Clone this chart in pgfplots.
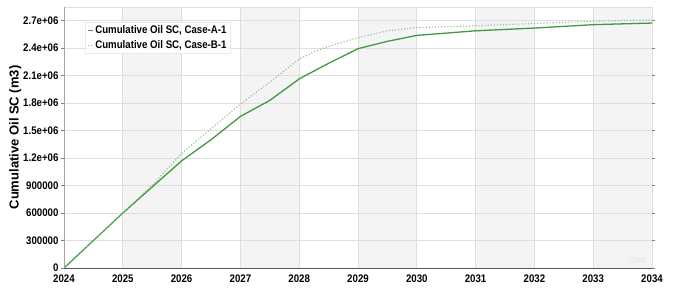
\documentclass[border=0pt]{standalone}
\usepackage{pgfplots}
\pgfplotsset{compat=1.18}
\usepackage{fontspec}
\setmainfont{Liberation Sans}[FakeStretch=0.88]
\newfontfamily\labelfont{Liberation Sans}
\definecolor{caseA}{RGB}{66,152,66}
\definecolor{caseB}{RGB}{135,190,135}
\definecolor{bandc}{RGB}{244,244,244}
\definecolor{gridc}{RGB}{222,222,222}
\begin{document}
\begin{tikzpicture}
\begin{axis}[
  set layers,
  scale only axis,
  width=588pt, height=261pt,
  xmin=2024, xmax=2034, ymin=0, ymax=2.85e6,
  xtick={2024,2025,...,2034},
  xticklabels={2024,2025,2026,2027,2028,2029,2030,2031,2032,2033,2034},
  ytick={0,300000,600000,900000,1200000,1500000,1800000,2100000,2400000,2700000},
  yticklabels={0,300000,600000,900000,1.2e+06,1.5e+06,1.8e+06,2.1e+06,2.4e+06,2.7e+06},
  scaled y ticks=false,
  tick label style={font=\fontsize{11}{13}\selectfont\bfseries},
  xticklabel style={yshift=0pt},
  yticklabel style={xshift=1pt},
  ylabel={Cumulative Oil SC (m3)},
  ylabel style={font=\labelfont\fontsize{13}{15}\selectfont\bfseries, yshift=-5pt},
  grid=major,
  major grid style={gridc, line width=0.6pt},
  axis line style={draw=none},
  tick align=outside,
  major tick length=3pt,
  xtick style={draw=none},
  ytick style={gray, line width=0.6pt},
  legend style={at={(axis cs:2024.36,2.685e6)}, anchor=north west,
    font=\fontsize{11}{14}\selectfont\bfseries, draw=gridc!60, fill=white, fill opacity=0.85, text opacity=1,
    inner xsep=2pt, inner ysep=1.5pt, row sep=1pt},
  legend image code/.code={\draw[#1, line width=0.8pt] (0cm,0cm) -- (0.18cm,0cm);},
  legend cell align=left,
]
\begin{pgfonlayer}{axis background}
\fill[bandc] (axis cs:2025,0) rectangle (axis cs:2026,2.85e6);
\fill[bandc] (axis cs:2027,0) rectangle (axis cs:2028,2.85e6);
\fill[bandc] (axis cs:2029,0) rectangle (axis cs:2030,2.85e6);
\fill[bandc] (axis cs:2031,0) rectangle (axis cs:2032,2.85e6);
\fill[bandc] (axis cs:2033,0) rectangle (axis cs:2034,2.85e6);
\draw[gridc, line width=0.6pt] (axis cs:2024,2.85e6) -- (axis cs:2034,2.85e6);
\draw[gridc, line width=0.6pt] (axis cs:2034,0) -- (axis cs:2034,2.85e6);
\end{pgfonlayer}
\addplot[caseA, line width=1.3pt] coordinates {
(2024,0) (2024.5,300000) (2025,600000) (2025.5,885000) (2026,1170000)
(2026.5,1400000) (2027,1655000) (2027.5,1830000) (2028,2065000)
(2028.5,2235000) (2029,2395000) (2029.5,2475000) (2030,2540000)
(2030.5,2565000) (2031,2590000) (2032,2620000) (2033,2657000) (2034,2675000)
};
\addlegendentry{Cumulative Oil SC, Case-A-1}
\addplot[caseB, line width=1.1pt, dotted] coordinates {
(2024,0) (2024.5,300000) (2025,600000) (2025.5,905000) (2026,1250000)
(2026.5,1520000) (2027,1790000) (2027.5,2030000) (2028,2280000)
(2028.25,2360000) (2028.5,2420000) (2029,2515000) (2029.5,2590000)
(2030,2625000) (2031,2645000) (2032,2670000) (2033,2695000) (2034,2710000)
};
\addlegendentry{Cumulative Oil SC, Case-B-1}
\draw[gray!70, line width=0.7pt] (rel axis cs:0,0) -- (rel axis cs:0,1);
\draw[black!65, line width=1pt] (rel axis cs:0,0) -- (rel axis cs:1,0);
\node[anchor=south east, text=gray!25, font=\fontsize{8}{9}\selectfont] at (rel axis cs:0.995,0.005) {CMG};
\end{axis}
\path ([xshift=-64pt,yshift=-19pt]current axis.south west) rectangle ([xshift=24pt,yshift=7pt]current axis.north east);
\end{tikzpicture}
\end{document}
